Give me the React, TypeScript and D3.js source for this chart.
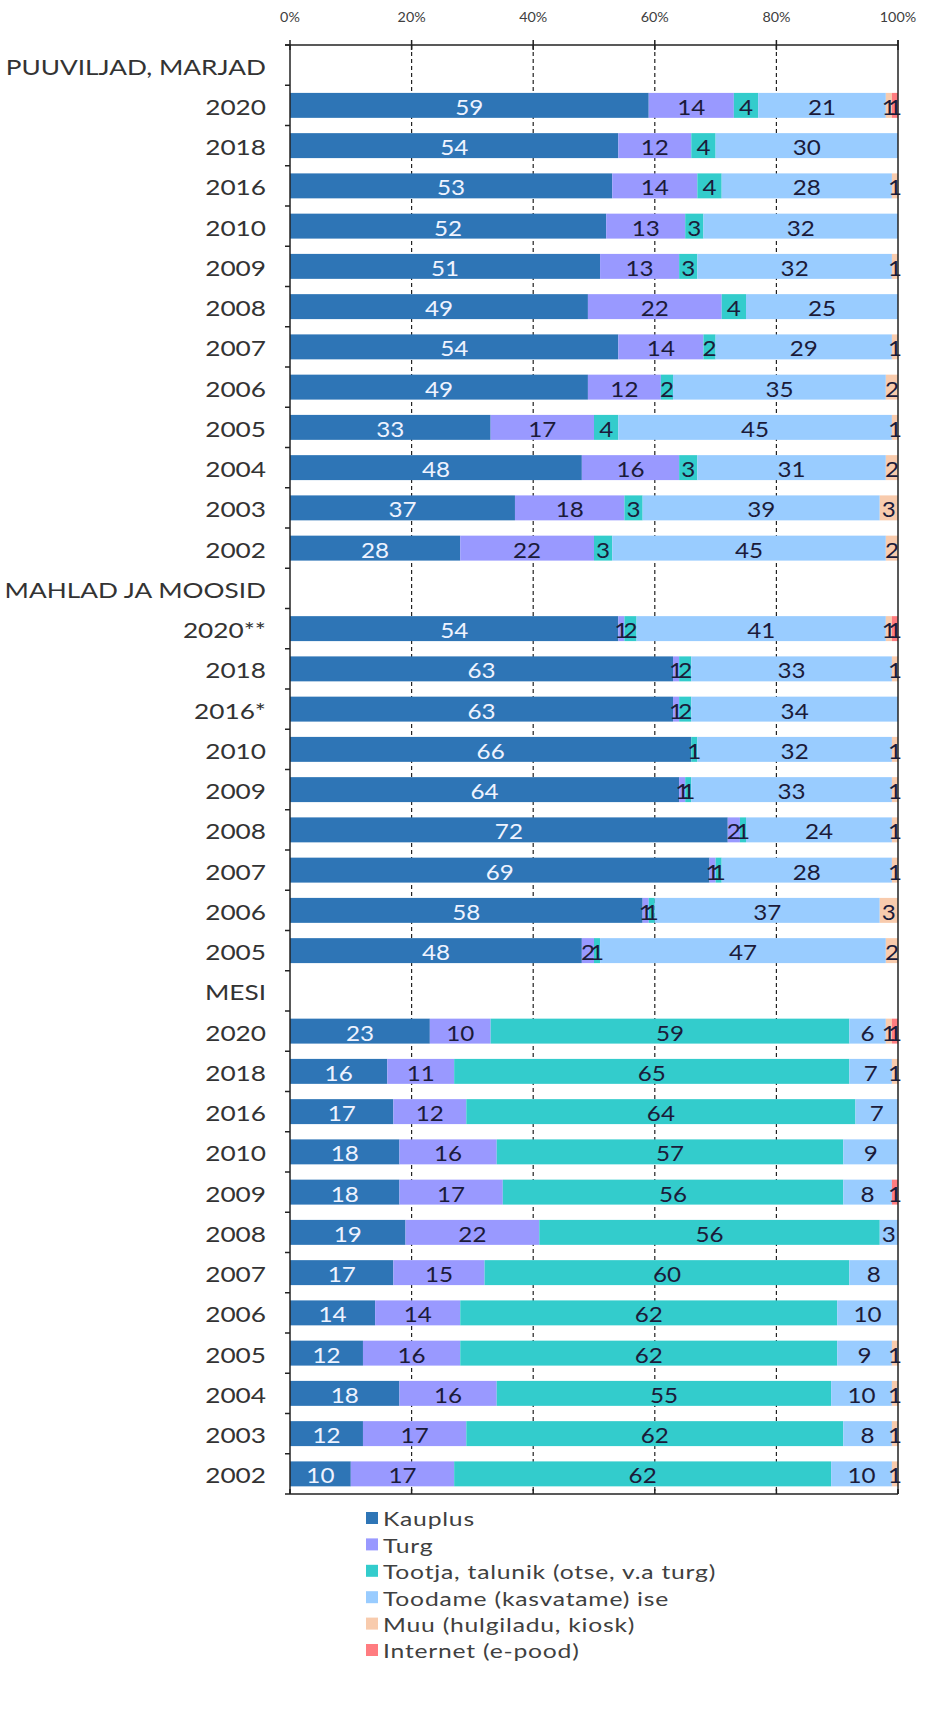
import React from "react";
import * as d3 from "d3";

const seriesNames = [
  "Kauplus",
  "Turg",
  "Tootja, talunik (otse, v.a turg)",
  "Toodame (kasvatame) ise",
  "Muu (hulgiladu, kiosk)",
  "Internet (e-pood)",
];
const seriesColors = ["#2E75B6", "#9999FF", "#33CCCC", "#99CCFF", "#F8CBAD", "#FF7C80"];

const groupNames = ["PUUVILJAD, MARJAD", "MAHLAD JA MOOSID", "MESI"];

const yearsPuuviljad = ["2020", "2018", "2016", "2010", "2009", "2008", "2007", "2006", "2005", "2004", "2003", "2002"];
const valuesPuuviljad = [
  [59, 14, 4, 21, 1, 1],
  [54, 12, 4, 30, 0, 0],
  [53, 14, 4, 28, 1, 0],
  [52, 13, 3, 32, 0, 0],
  [51, 13, 3, 32, 1, 0],
  [49, 22, 4, 25, 0, 0],
  [54, 14, 2, 29, 1, 0],
  [49, 12, 2, 35, 2, 0],
  [33, 17, 4, 45, 1, 0],
  [48, 16, 3, 31, 2, 0],
  [37, 18, 3, 39, 3, 0],
  [28, 22, 3, 45, 2, 0],
];

const yearsMahlad = ["2020**", "2018", "2016*", "2010", "2009", "2008", "2007", "2006", "2005"];
const valuesMahlad = [
  [54, 1, 2, 41, 1, 1],
  [63, 1, 2, 33, 1, 0],
  [63, 1, 2, 34, 0, 0],
  [66, 0, 1, 32, 1, 0],
  [64, 1, 1, 33, 1, 0],
  [72, 2, 1, 24, 1, 0],
  [69, 1, 1, 28, 1, 0],
  [58, 1, 1, 37, 3, 0],
  [48, 2, 1, 47, 2, 0],
];

const yearsMesi = ["2020", "2018", "2016", "2010", "2009", "2008", "2007", "2006", "2005", "2004", "2003", "2002"];
const valuesMesi = [
  [23, 10, 59, 6, 1, 1],
  [16, 11, 65, 7, 1, 0],
  [17, 12, 64, 7, 0, 0],
  [18, 16, 57, 9, 0, 0],
  [18, 17, 56, 8, 0, 1],
  [19, 22, 56, 3, 0, 0],
  [17, 15, 60, 8, 0, 0],
  [14, 14, 62, 10, 0, 0],
  [12, 16, 62, 9, 1, 0],
  [18, 16, 55, 10, 1, 0],
  [12, 17, 62, 8, 1, 0],
  [10, 17, 62, 10, 1, 0],
];

const tickValues = [0, 20, 40, 60, 80, 100];

type Row = { key: string; label: string; header: boolean; values: number[] };

const rows: Row[] = [];
[
  [yearsPuuviljad, valuesPuuviljad],
  [yearsMahlad, valuesMahlad],
  [yearsMesi, valuesMesi],
].forEach(([years, vals]: any, gi) => {
  rows.push({ key: `g${gi}`, label: groupNames[gi], header: true, values: [] });
  (years as string[]).forEach((y, i) =>
    rows.push({ key: `g${gi}-${i}`, label: y, header: false, values: vals[i] })
  );
});

const FONT = "Lato, 'Open Sans', sans-serif";

function SText(props: any) {
  const { x, y, sx = 1, children, ...rest } = props;
  return (
    <text transform={`translate(${x},${y}) scale(${sx},1)`} {...rest}>
      {children}
    </text>
  );
}

export default function App() {
  const W = 929;
  const H = 1717;
  const x0 = 290;
  const x1 = 898;
  const yTop = 45;
  const yBottom = 1494;

  const x = d3.scaleLinear().domain([0, 100]).range([x0, x1]);
  const pad = 0.38;
  const y = d3
    .scaleBand<string>()
    .domain(rows.map((r) => r.key))
    .range([yTop, yBottom])
    .paddingInner(pad)
    .paddingOuter(pad / 2);
  const step = y.step();
  const bw = y.bandwidth();

  const legendY0 = 1518;
  const legendStep = 26.4;

  return (
    <svg width={W} height={H} style={{ display: "block", position: "absolute", left: 0, top: 0 }}>
      <rect width={W} height={H} fill="#ffffff" />
      {/* gridlines */}
      {tickValues
        .filter((t) => t > 0 && t < 100)
        .map((t) => (
          <line
            key={t}
            x1={x(t)}
            x2={x(t)}
            y1={yTop}
            y2={yBottom}
            stroke="#222"
            strokeWidth={1.2}
            strokeDasharray="4,3"
          />
        ))}
      {/* bars */}
      {rows
        .filter((r) => !r.header)
        .map((r) => {
          const total = d3.sum(r.values);
          const stack = d3.cumsum(r.values);
          return (
            <g key={r.key}>
              {r.values.map((v, i) => {
                if (v <= 0) return null;
                const start = i === 0 ? 0 : stack[i - 1];
                const a = x((start / total) * 100);
                const b = x(((start + v) / total) * 100);
                return (
                  <rect
                    key={i}
                    x={a}
                    y={y(r.key)}
                    width={b - a}
                    height={bw}
                    fill={seriesColors[i]}
                  />
                );
              })}
              {r.values.map((v, i) => {
                if (v <= 0) return null;
                const start = i === 0 ? 0 : stack[i - 1];
                const cx = x(((start + v / 2) / total) * 100);
                return (
                  <SText
                    key={"t" + i}
                    x={cx}
                    y={(y(r.key) as number) + bw / 2 + 1}
                    sx={1.1}
                    textAnchor="middle"
                    dominantBaseline="central"
                    fontFamily={FONT}
                    fontSize={22}
                    fill={i === 0 ? "#EEF3FF" : "#1B1B3A"}
                  >
                    {v}
                  </SText>
                );
              })}
            </g>
          );
        })}
      {/* axes */}
      <line x1={x0} x2={x0} y1={yTop} y2={yBottom} stroke="#222" strokeWidth={1.5} />
      <line x1={x1} x2={x1} y1={yTop - 5} y2={yBottom} stroke="#222" strokeWidth={1.5} />
      <line x1={x0 - 5} x2={x1} y1={yTop} y2={yTop} stroke="#222" strokeWidth={1.5} />
      <line x1={x0 - 5} x2={x1} y1={yBottom} y2={yBottom} stroke="#222" strokeWidth={1.5} />
      {tickValues.map((t) => (
        <g key={"tk" + t}>
          <line x1={x(t)} x2={x(t)} y1={yTop - 5} y2={yTop + 5} stroke="#222" strokeWidth={1.5} />
          <line x1={x(t)} x2={x(t)} y1={yBottom - 5} y2={yBottom} stroke="#222" strokeWidth={1.5} />
        </g>
      ))}
      {rows.map((r, i) => (
        <line
          key={"ct" + i}
          x1={x0 - 5}
          x2={x0}
          y1={yTop + step * i}
          y2={yTop + step * i}
          stroke="#222"
          strokeWidth={1.5}
        />
      ))}
      {/* tick labels */}
      {tickValues.map((t) => (
        <SText
          key={"tl" + t}
          x={x(t)}
          y={17}
          sx={1.1}
          textAnchor="middle"
          dominantBaseline="central"
          fontFamily={FONT}
          fontSize={13}
          fill="#404040"
        >
          {`${t}%`}
        </SText>
      ))}
      {/* category labels */}
      {rows.map((r) => (
        <SText
          key={"cl" + r.key}
          x={266}
          y={(y(r.key) as number) + bw / 2 + 1}
          sx={1.22}
          textAnchor="end"
          dominantBaseline="central"
          fontFamily={FONT}
          fontSize={21.5}
          fill="#333333"
        >
          {r.label}
        </SText>
      ))}
      {/* legend */}
      {seriesNames.map((n, i) => (
        <g key={"lg" + i}>
          <rect x={366} y={legendY0 + legendStep * i - 6} width={12} height={12} fill={seriesColors[i]} />
          <SText
            x={383}
            y={legendY0 + legendStep * i + 1}
            sx={1.3}
            dominantBaseline="central"
            fontFamily={FONT}
            fontSize={19}
            letterSpacing={0.6}
            fill="#404040"
          >
            {n}
          </SText>
        </g>
      ))}
    </svg>
  );
}
